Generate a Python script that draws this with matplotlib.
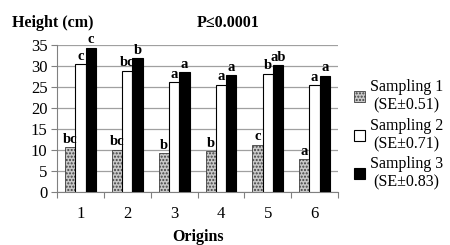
import numpy as np
import matplotlib
matplotlib.use("Agg")
from matplotlib import pyplot as plt

plt.rcParams['font.family'] = ['Liberation Serif', 'DejaVu Serif']
plt.rcParams['hatch.linewidth'] = 1.0

origins = ["1", "2", "3", "4", "5", "6"]
sampling1 = [10.7, 10.1, 9.3, 9.8, 11.3, 7.8]
sampling2 = [30.5, 28.9, 26.1, 25.6, 28.2, 25.5]
sampling3 = [34.4, 31.9, 28.5, 27.9, 30.3, 27.7]
letters1 = ["bc", "bc", "b", "b", "c", "a"]
letters2 = ["c", "bc", "a", "a", "b", "a"]
letters3 = ["c", "b", "a", "a", "ab", "a"]
labels = ["Sampling 1\n(SE\u00b10.51)", "Sampling 2\n(SE\u00b10.71)", "Sampling 3\n(SE\u00b10.83)"]

fig = plt.figure(figsize=(4.5, 2.45), dpi=100)
ax = fig.add_axes([0.127, 0.216, 0.624, 0.6])

x = np.arange(1, len(origins) + 1)
w = 0.22
b1 = ax.bar(x - w, sampling1, w, facecolor="#c8c8c8", edgecolor="#404040",
            hatch=".....", linewidth=0.6, label=labels[0], zorder=3)
b2 = ax.bar(x, sampling2, w, facecolor="white", edgecolor="black",
            linewidth=0.8, label=labels[1], zorder=3)
b3 = ax.bar(x + w, sampling3, w, facecolor="black", edgecolor="black",
            linewidth=0.8, label=labels[2], zorder=3)

for bars, lets in ((b1, letters1), (b2, letters2), (b3, letters3)):
    for bar, t in zip(bars, lets):
        ax.text(bar.get_x() + bar.get_width() / 2, bar.get_height() + 0.3, t,
                ha="center", va="bottom", fontsize=10.5, fontweight="bold", zorder=4)

ax.set_ylim(0, 35)
ax.set_xlim(0.5, 6.5)
ax.set_yticks(range(0, 36, 5))
ax.yaxis.grid(True, color="#a0a0a0", linewidth=0.9, zorder=0)
ax.set_xticks(np.arange(0.5, 6.6, 1.0))
ax.set_xticklabels([])
ax.set_xticks(x, minor=True)
ax.set_xticklabels(origins, minor=True)
ax.tick_params(axis="x", which="major", length=4, color="#808080")
ax.tick_params(axis="x", which="minor", length=0, pad=10, labelsize=12)
ax.tick_params(axis="y", length=4, color="#808080", labelsize=12, pad=3)
for s in ("top", "right"):
    ax.spines[s].set_visible(False)
ax.spines["left"].set_color("#808080")
ax.spines["bottom"].set_color("#808080")

ax.set_xlabel("Origins", fontsize=11.5, fontweight="bold", labelpad=5)
fig.text(0.027, 0.905, "Height (cm)", fontsize=11.5, fontweight="bold", va="center")
fig.text(0.507, 0.905, "P\u22640.0001", fontsize=11.5, fontweight="bold", va="center", ha="center")

leg = ax.legend(loc="center left", bbox_to_anchor=(0.768, 0.45), bbox_transform=fig.transFigure,
                frameon=False, fontsize=11.5, handlelength=0.7, handleheight=0.7,
                handletextpad=0.3, labelspacing=0.25, borderpad=0)
for t in leg.get_texts():
    t.set_multialignment("center")

fig.savefig("out.png", dpi=100)
